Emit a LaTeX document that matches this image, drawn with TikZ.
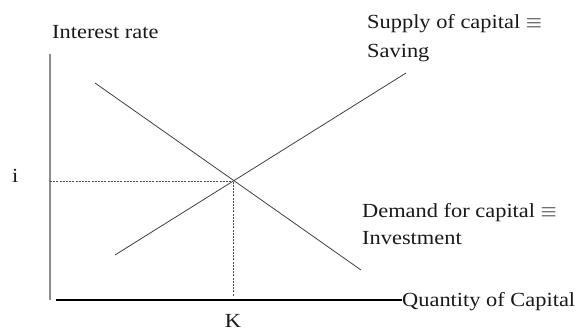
\documentclass[tikz,border=0pt]{standalone}
\usepackage{fontspec}
\setmainfont[FakeStretch=1.12]{Liberation Serif}
\begin{document}
\begin{tikzpicture}[x=1pt,y=-1pt,
  lbl/.style={inner sep=0pt,anchor=base west,font=\fontsize{20}{24}\selectfont,text=black!90},
  curve/.style={draw=black!75,line width=0.8pt},
  guide/.style={draw=black!70,line width=0.7pt,dash pattern=on 2pt off 1.2pt}]
\useasboundingbox (0,0) rectangle (579,330);
% axes
\coordinate (ytop) at (50,54);
\coordinate (ybot) at (50,300);
\coordinate (xl) at (56,300);
\coordinate (xr) at (402,300);
\draw[draw=black!45,line width=1.4pt] (ytop) -- (ybot);
\draw[draw=black,line width=1.3pt] (xl) -- (xr);
% curves
\coordinate (d1) at (95,83);
\coordinate (d2) at (361,270);
\coordinate (s1) at (115,255);
\coordinate (s2) at (406,73);
\draw[curve] (d1) -- (d2);
\draw[curve] (s1) -- (s2);
\coordinate (E) at (233,181.5);
\coordinate (Ey) at (50,181.5);
\coordinate (Ex) at (233,296);
\draw[guide] (Ey) -- (E);
\draw[guide] (E) -- (Ex);
% labels
\node[lbl] (ir) at (52,38) {Interest rate};
\node[lbl] (il) at (12,182) {i};
\node[lbl] (s) at (367,28) {Supply of capital $\equiv$};
\node[lbl] (sv) at (367,57) {Saving};
\node[lbl] (dm) at (362,217) {Demand for capital $\equiv$};
\node[lbl] (iv) at (362,244) {Investment};
\node[lbl] (q) at (402,306) {Quantity of Capital};
\node[lbl,anchor=base] (k) at (233,327) {K};
\end{tikzpicture}
\end{document}
